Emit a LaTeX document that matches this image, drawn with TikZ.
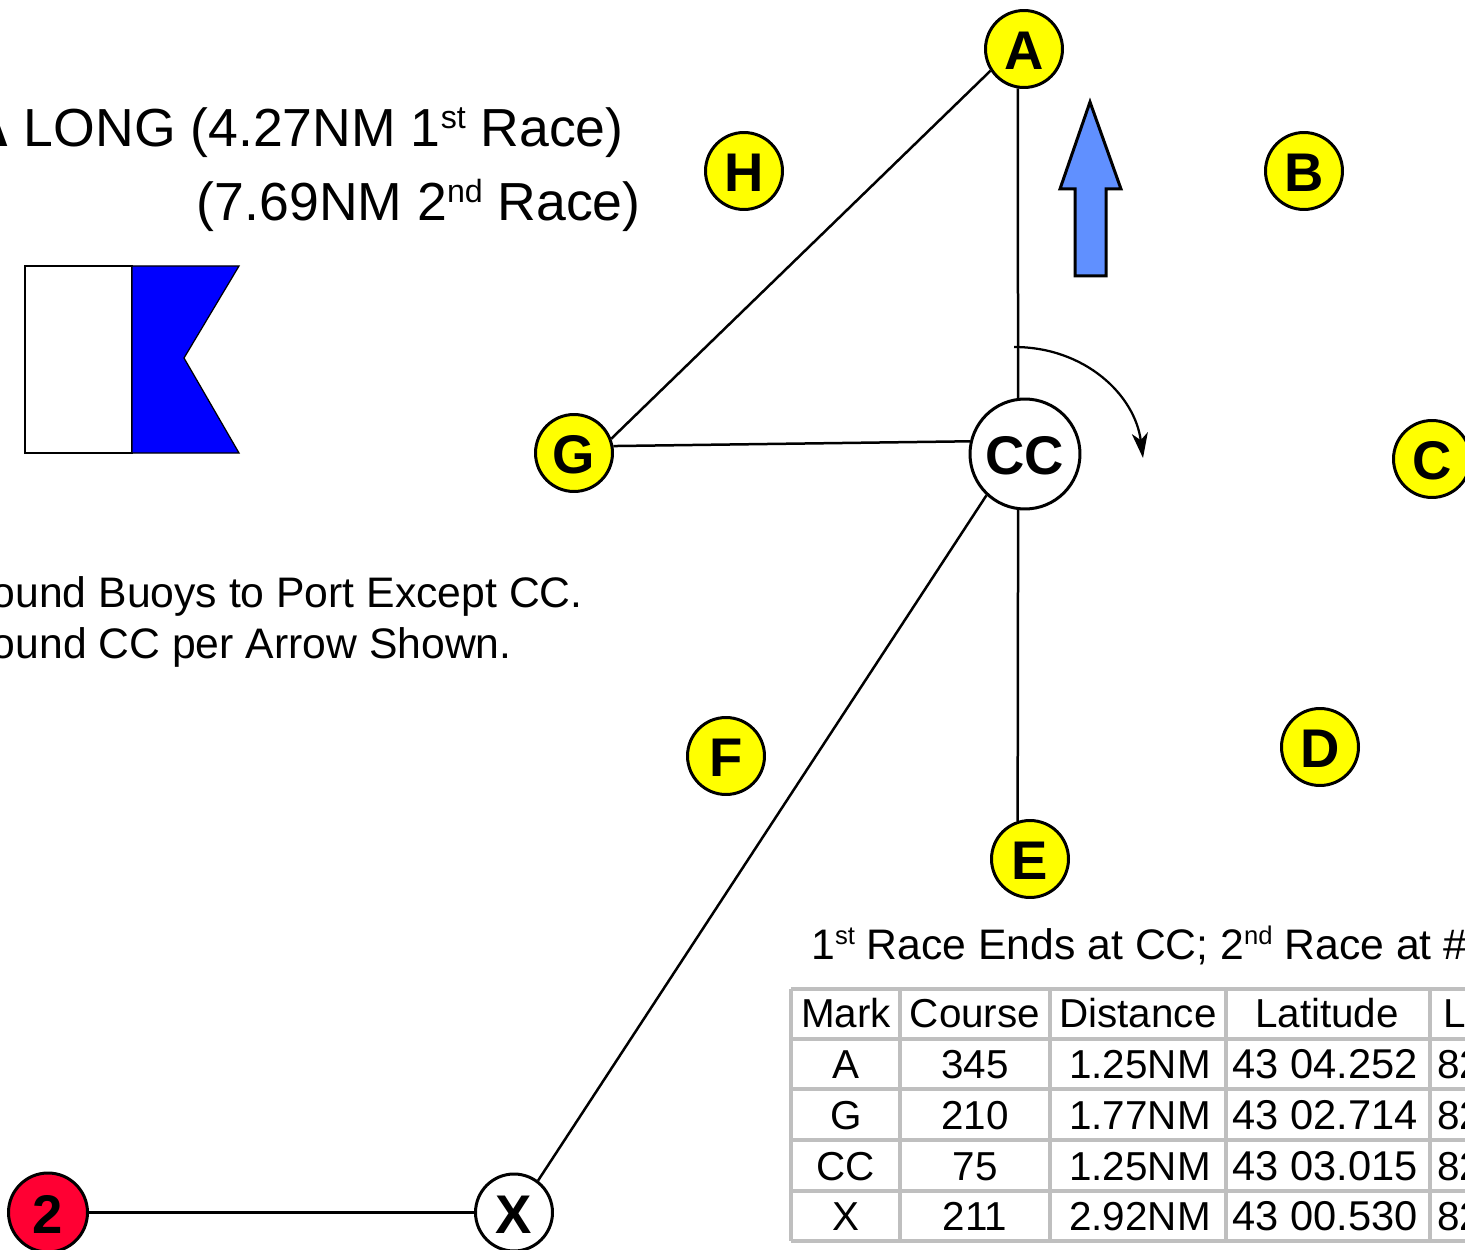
\documentclass[tikz,border=0pt]{standalone}
\usepackage{fontspec}
\setmainfont{Liberation Sans}
\usetikzlibrary{arrows.meta}
\definecolor{BuoyYellow}{HTML}{FFFF00}
\definecolor{FinishRed}{HTML}{FF0033}
\definecolor{WindBlue}{HTML}{6090FF}
\definecolor{GridGray}{HTML}{BFBFBF}
\newcommand\up[1]{\raisebox{.34em}{\scalebox{.6}{#1}}}

\tikzset{
	buoy/.style={circle, draw, line width=.06cm, fill=BuoyYellow, minimum size=1.54cm, inner sep=0pt, text height=23.6pt, text depth=0pt, font=\fontsize{31}{31}\selectfont\bfseries},
	leg/.style={line width=.05cm},
	title/.style={anchor=base east, inner sep=0pt, font=\fontsize{30.5}{30.5}\selectfont},
	remark/.style={anchor=base east, inner sep=0pt, font=\fontsize{24.3}{24.3}\selectfont},
	cell/.style={anchor=base, inner sep=0pt, font=\fontsize{23}{23}\selectfont},
	latcell/.style={cell, font=\fontsize{23.7}{23.7}\selectfont},
}

\begin{document}
\begin{tikzpicture}[x=.02cm, y=-.02cm]
	\useasboundingbox (0,0) rectangle (1465,1250);
	\clip (0,0) rectangle (1465,1250);

	% heading
	\node[title] (distone) at (624,147) {\textbf{A} LONG (4.27NM 1\up{st} Race)};
	\node[title] (disttwo) at (641,221) {(7.69NM 2\up{nd} Race)};
	\node[remark] (roundone) at (583,607) {ound Buoys to Port Except CC.};
	\node[remark] (roundtwo) at (512,658) {ound CC per Arrow Shown.};

	% flag
	\draw[fill=white, line width=.025cm] (25,266) rectangle (132,453);
	\draw[fill=blue, line width=.025cm] (132,266) -- (239,266) -- (184,358) -- (239,453) -- (132,453) -- cycle;

	% marks
	\foreach \name/\x/\y in {A/1024/49, H/744/171, B/1304/171, C/1432/459, D/1320/747, E/1030/859, F/726/756, G/574/453}{
		\node[buoy] (mark\name) at (\x,\y) {\name};
	}
	\node[buoy, fill=white, minimum size=2.2cm] (markCC) at (1025,454) {CC};
	\node[buoy, fill=white] (markX) at (514,1212.5) {X};
	\node[buoy, fill=FinishRed, minimum size=1.58cm] (markTwo) at (48,1212.5) {2};

	% course
	\draw[leg] (markA.261) -- (markCC.97);
	\draw[leg] (markA.213) -- (markG.21);
	\draw[leg] (markG.10) -- (markCC.167);
	\draw[leg] (markCC.227) -- (markX.53);
	\draw[leg] (markCC.263) -- (markE.108);
	\draw[leg] (markTwo) -- (markX);

	% wind and rounding
	\draw[fill=WindBlue, line width=.06cm, line join=miter] (1090,102) -- (1121,189) -- (1106,189) -- (1106,276) -- (1075,276) -- (1075,189) -- (1060,189) -- cycle;
	\coordinate (roundstart) at (1014,347);
	\coordinate (roundend) at (1143,458);
	\draw[-{Stealth[length=.5cm, width=.32cm, inset=.14cm]}, line width=.045cm] (roundstart) .. controls (1085,347) and (1135,395) .. (roundend);

	% table
	\node[remark, anchor=base west] (finish) at (811,959) {1\up{st} Race Ends at CC; 2\up{nd} Race at \#};
	\foreach \y in {989,1039,1089,1140,1191,1241}{
		\draw[GridGray, line width=.07cm] (791,\y) -- (1465,\y);
	}
	\foreach \x in {791,900,1050,1226,1430}{
		\draw[GridGray, line width=.07cm] (\x,989) -- (\x,1241);
	}
	\node[cell] (markhead) at (846,1027) {Mark};
	\node[cell] (coursehead) at (975,1027) {Course};
	\node[cell] (disthead) at (1138,1027) {Distance};
	\node[cell] (lathead) at (1327,1027) {Latitude};
	\node[cell, anchor=base west] (lonhead) at (1443,1027) {L};
	\foreach \m/\c/\d/\l/\y in {A/345/1.25NM/43 04.252/1078, G/210/1.77NM/43 02.714/1129, CC/75/1.25NM/43 03.015/1180, X/211/2.92NM/43 00.530/1230}{
		\node[cell] (mark\y) at (846,\y) {\m};
		\node[cell] (course\y) at (975,\y) {\c};
		\node[cell] (dist\y) at (1140,\y) {\d};
		\node[latcell] (lat\y) at (1325,\y) {\l};
		\node[cell, anchor=base west] (lon\y) at (1437,\y) {82};
	}
\end{tikzpicture}
\end{document}
